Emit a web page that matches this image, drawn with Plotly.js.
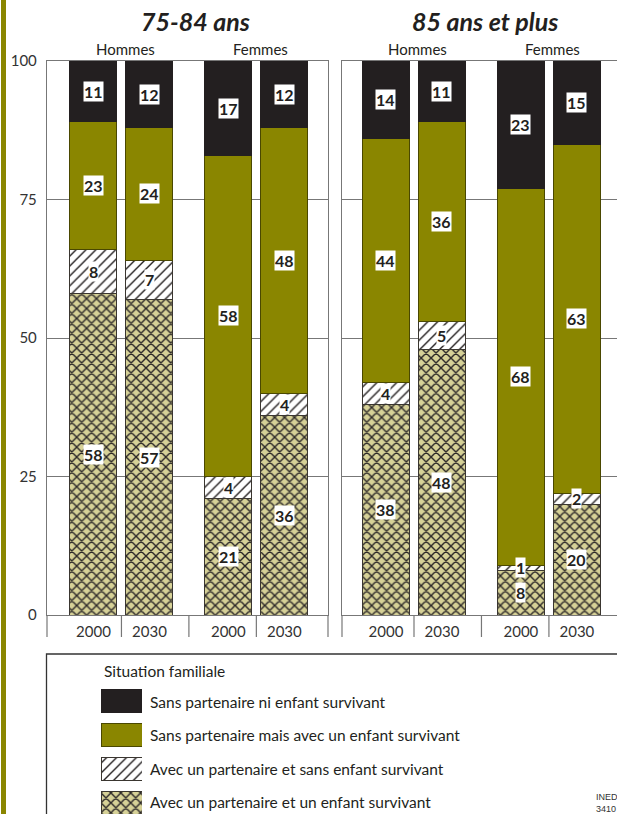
<!DOCTYPE html>
<html>
<head>
<meta charset="utf-8">
<script src="https://cdn.plot.ly/plotly-3.0.1.min.js"></script>
<style>html,body{margin:0;padding:0;background:#fff;}#chart{width:617px;height:814px;}</style>
</head>
<body>
<div id="chart"></div>
<script>
// ---------- DATA ----------
const panels = ['75-84 ans', '85 ans et plus'];
const sexes = ['Hommes', 'Femmes'];
const years = ['2000', '2030', '2000', '2030'];   // Hommes 2000, Hommes 2030, Femmes 2000, Femmes 2030
const categories = [
  'Avec un partenaire et un enfant survivant',
  'Avec un partenaire et sans enfant survivant',
  'Sans partenaire mais avec un enfant survivant',
  'Sans partenaire ni enfant survivant'
];
const legendTitle = 'Situation familiale';
const yTicks = [0, 25, 50, 75, 100];
const source = 'INED<br>3410';

// 75-84 ans
const a7584_partenaireEnfant = [58, 57, 21, 36];
const a7584_partenaireSansEnfant = [8, 7, 4, 4];
const a7584_sansPartenaireEnfant = [23, 24, 58, 48];
const a7584_sansRien = [11, 12, 17, 12];
// 85 ans et plus
const a85_partenaireEnfant = [38, 48, 8, 20];
const a85_partenaireSansEnfant = [4, 5, 1, 2];
const a85_sansPartenaireEnfant = [44, 36, 68, 63];
const a85_sansRien = [14, 11, 23, 15];

// ---------- STYLE / LAYOUT ----------
const W = 617, H = 814;
const px = v => v / W;          // pixel -> paper x
const py = v => 1 - v / H;      // pixel -> paper y
const BLACK = '#231f20', OLIVE = '#8a8600', KHAKI = '#d6d197';
const FONT = 'Lato, "Open Sans", sans-serif';

const styles = [
  {color: KHAKI, line: {color: '#3a3630', width: 1}, pattern: {shape: 'x', fgcolor: '#2b2727', bgcolor: KHAKI, size: 7, solidity: 0.36}},
  {color: '#ffffff', line: {color: '#3a3630', width: 1}, pattern: {shape: '/', fgcolor: BLACK, bgcolor: '#ffffff', size: 7, solidity: 0.2}},
  {color: OLIVE, line: {color: '#4a4800', width: 1}},
  {color: BLACK, line: {color: '#231f20', width: 1}}
];

const panelData = [
  [a7584_partenaireEnfant, a7584_partenaireSansEnfant, a7584_sansPartenaireEnfant, a7584_sansRien],
  [a85_partenaireEnfant, a85_partenaireSansEnfant, a85_sansPartenaireEnfant, a85_sansRien]
];

// bar positions: pairs within a sex group, extra gap between sex groups
const groupGap = 0.41;
const pos = years.map((_, i) => i + (i >= 2 ? groupGap : 0));
const barW = 0.84;

const traces = [];
const annotations = [];
const axSuffix = ['', '2'];

function txt(o) {
  return Object.assign({showarrow: false, xanchor: 'center', yanchor: 'middle'}, o);
}

panelData.forEach((series, p) => {
  const xa = 'x' + axSuffix[p], ya = 'y' + axSuffix[p];
  const cum = years.map(() => 0);
  series.forEach((vals, c) => {
    traces.push({
      type: 'bar', x: pos, y: vals, width: barW,
      xaxis: xa, yaxis: ya, name: categories[c],
      marker: styles[c], showlegend: false, hoverinfo: 'skip'
    });
    vals.forEach((v, i) => {
      annotations.push(txt({
        xref: xa, yref: ya, x: pos[i], y: cum[i] + v / 2,
        text: '<b>' + v + '</b>',
        font: {family: FONT, size: 16, color: BLACK, weight: 'bold'},
        bgcolor: '#ffffff', borderpad: 0
      }));
      cum[i] += v;
    });
  });
  // sex group labels
  sexes.forEach((s, g) => {
    annotations.push(txt({
      xref: xa, yref: 'paper', x: (pos[2 * g] + pos[2 * g + 1]) / 2, y: py(49),
      xshift: 4, text: s, font: {family: FONT, size: 15, color: '#231f20'}
    }));
  });
});

// panel titles
annotations.push(txt({xref: 'paper', yref: 'paper', x: px(195), y: py(21), text: '<b><i>' + panels[0] + '</i></b>',
  font: {family: FONT, size: 25, color: BLACK}}));
annotations.push(txt({xref: 'paper', yref: 'paper', x: px(485), y: py(21), text: '<b><i>' + panels[1] + '</i></b>',
  font: {family: FONT, size: 25, color: BLACK}}));

// legend (swatches are bars on a dedicated small axis)
const rowY = [802, 769, 735, 702]; // pixel centres, bottom-first order of categories
categories.forEach((c, i) => {
  traces.push({
    type: 'bar', orientation: 'h', x: [1], y: [i], width: 0.65,
    xaxis: 'x3', yaxis: 'y3', marker: styles[i], showlegend: false, hoverinfo: 'skip'
  });
  annotations.push(txt({xref: 'paper', yref: 'paper', x: px(148), y: py(rowY[i]), xanchor: 'left',
    text: c, font: {family: FONT, size: 15.5, color: '#231f20'}}));
});
annotations.push(txt({xref: 'paper', yref: 'paper', x: px(102), y: py(671), xanchor: 'left',
  text: legendTitle, font: {family: FONT, size: 15.5, color: '#231f20'}}));
annotations.push(txt({xref: 'paper', yref: 'paper', x: px(594), y: py(803), xanchor: 'left',
  text: source, align: 'left',
  font: {family: '"Liberation Sans Narrow", "Liberation Sans", sans-serif', size: 9, color: '#333'}}));

// shapes
const shapes = [];
const sepY0 = py(615), sepY1 = py(637);
[0, 1].forEach(p => {
  const xa = 'x' + axSuffix[p];
  [(pos[0] + pos[1]) / 2, (pos[1] + pos[2]) / 2, (pos[2] + pos[3]) / 2].forEach(x => {
    shapes.push({type: 'line', xref: xa, yref: 'paper', x0: x, x1: x, y0: sepY0, y1: sepY1,
      line: {color: '#777', width: 1.2}});
  });
  shapes.push({type: 'line', xref: xa + ' domain', yref: 'paper', x0: 0, x1: 0, y0: sepY0, y1: sepY1,
    line: {color: '#777', width: 1.2}});
});
shapes.push({type: 'line', xref: 'x domain', yref: 'paper', x0: 1, x1: 1, y0: sepY0, y1: sepY1,
  line: {color: '#777', width: 1.2}});
// olive side stripe
shapes.push({type: 'rect', xref: 'paper', yref: 'paper', x0: px(1), x1: px(6), y0: -0.01, y1: 1.01,
  fillcolor: OLIVE, line: {width: 0}, layer: 'below'});
// legend frame
shapes.push({type: 'rect', xref: 'paper', yref: 'paper', x0: px(46.5), x1: px(630), y0: py(830), y1: py(654),
  line: {color: '#333', width: 1.3}, fillcolor: 'rgba(0,0,0,0)'});

const yDomain = [py(615), py(61)];
const baseX = {
  showgrid: false, zeroline: false, showline: true, mirror: true, linecolor: '#777', linewidth: 1.2,
  ticks: '', tickvals: pos, ticktext: years, ticklabelstandoff: 3,
  tickfont: {family: FONT, size: 15, color: '#333'}, fixedrange: true, automargin: false
};
const baseY = {
  range: [0, 100], tickvals: yTicks, showgrid: true, gridcolor: '#777', gridwidth: 1,
  zeroline: false, showline: true, linecolor: '#777', linewidth: 1.2, ticks: '',
  tickfont: {family: FONT, size: 15, color: '#333'}, fixedrange: true, automargin: false,
  domain: yDomain
};

const layout = {
  width: W, height: H,
  margin: {l: 0, r: 0, t: 0, b: 0},
  paper_bgcolor: '#fff', plot_bgcolor: '#fff',
  barmode: 'stack', hovermode: false, showlegend: false,
  xaxis: Object.assign({}, baseX, {domain: [px(47), px(328)], range: [-0.83, 4.19], anchor: 'y'}),
  yaxis: Object.assign({}, baseY, {mirror: true, anchor: 'x', ticklabelstandoff: 6}),
  xaxis2: Object.assign({}, baseX, {domain: [px(342), 1], range: [-0.786, 4.126], anchor: 'y2'}),
  yaxis2: Object.assign({}, baseY, {mirror: false, anchor: 'x2', showticklabels: false}),
  xaxis3: {domain: [px(101), px(142)], range: [0, 1], visible: false, fixedrange: true, anchor: 'y3'},
  yaxis3: {domain: [0, py(684)], range: [-0.324, 3.5], visible: false, fixedrange: true, anchor: 'x3'},
  annotations: annotations,
  shapes: shapes
};

Plotly.newPlot('chart', traces, layout, {displayModeBar: false, staticPlot: true});
</script>
</body>
</html>
